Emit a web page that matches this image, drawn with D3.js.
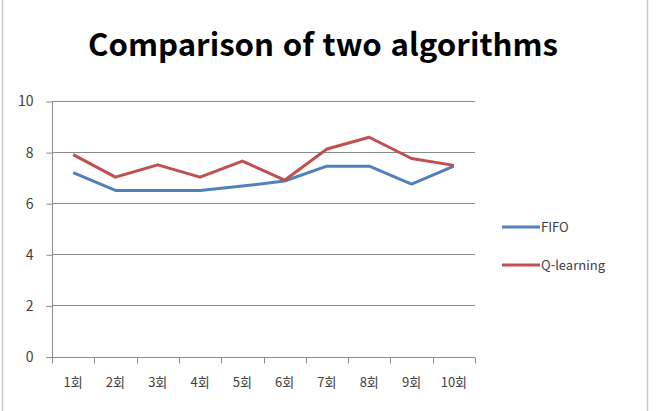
<!DOCTYPE html>
<html lang="ko">
	<head>
		<meta charset="utf-8">
		<title>Comparison of two algorithms</title>
		<script src="https://d3js.org/d3.v7.min.js"></script>
		<style type="text/css">
		body { margin: 0; background: #fff; }
		text {
			font-family: "Noto Sans CJK KR", "Noto Sans", sans-serif;
			font-size: 13px;
			fill: #404040;
		}
		</style>
	</head>
	<body>
		<div id="chart"></div>
		<script type="text/javascript">
		// data
		var rounds = ["1회", "2회", "3회", "4회", "5회", "6회", "7회", "8회", "9회", "10회"];
		var fifo = [7.2, 6.5, 6.5, 6.5, 6.67, 6.87, 7.45, 7.45, 6.75, 7.45];
		var qlearning = [7.9, 7.02, 7.5, 7.02, 7.65, 6.9, 8.12, 8.58, 7.75, 7.48];
		var yTicks = [0, 2, 4, 6, 8, 10];
		var seriesNames = ["FIFO", "Q-learning"];
		var colors = ["#4F81BD", "#C0504D"];

		// plot area
		var w = 657, h = 411;
		var padLeft = 52, padRight = 475, padTop = 101, padBottom = 356.5;

		var svg = d3.select("#chart").append("svg")
			.attr("width", w)
			.attr("height", h);

		// frame
		svg.append("rect")
			.attr("x", 2.5).attr("y", -5)
			.attr("width", 645).attr("height", h + 10)
			.attr("fill", "none")
			.attr("stroke", "#c8c8c8")
			.attr("stroke-width", 1.5);

		// title
		svg.append("text")
			.attr("x", 323).attr("y", 56)
			.attr("text-anchor", "middle")
			.attr("textLength", 470)
			.attr("lengthAdjust", "spacingAndGlyphs")
			.style("font-size", "31px")
			.style("font-weight", "bold")
			.style("fill", "#000")
			.text("Comparison of two algorithms");

		var xScale = d3.scaleBand().domain(rounds).range([padLeft, padRight]);
		var yScale = d3.scaleLinear().domain([0, 10]).range([padBottom, padTop]);

		// gridlines
		svg.append("g")
			.selectAll("line")
			.data(yTicks.filter(d => d > 0))
			.enter().append("line")
			.attr("x1", padLeft).attr("x2", padRight)
			.attr("y1", d => Math.round(yScale(d)) + 0.5)
			.attr("y2", d => Math.round(yScale(d)) + 0.5)
			.attr("stroke", "#8a8a8a");

		// y axis
		var yAxis = d3.axisLeft(yScale).tickValues(yTicks).tickSize(6).tickPadding(13);
		var gy = svg.append("g")
			.attr("transform", "translate(" + (padLeft + 0.5) + ",0.5)")
			.call(yAxis);

		// x axis
		var xAxis = d3.axisBottom(xScale).tickSize(0).tickPadding(20);
		var gx = svg.append("g")
			.attr("transform", "translate(0," + (Math.round(padBottom) + 0.5) + ")")
			.call(xAxis);
		// category boundary ticks
		gx.selectAll("line.bound")
			.data(d3.range(rounds.length + 1))
			.enter().append("line")
			.attr("class", "bound")
			.attr("x1", i => Math.round(padLeft + i * xScale.step()) + 0.5)
			.attr("x2", i => Math.round(padLeft + i * xScale.step()) + 0.5)
			.attr("y1", 0).attr("y2", 6)
			.attr("stroke", "#8a8a8a");

		svg.selectAll(".domain").attr("stroke", "#8a8a8a");
		svg.selectAll(".tick line").attr("stroke", "#8a8a8a");
		gy.selectAll(".tick text")
			.style("font-size", "14px")
			.attr("fill", "#404040");
		gx.selectAll(".tick text")
			.style("font-size", "13px")
			.attr("fill", "#404040");
		gy.select(".domain").attr("d", "M0," + padTop + "V" + padBottom);
		gx.select(".domain").attr("d", "M" + padLeft + ",0H" + padRight);

		// lines
		var line = d3.line()
			.x((d, i) => xScale(rounds[i]) + xScale.bandwidth() / 2)
			.y(d => yScale(d));

		[fifo, qlearning].forEach(function (s, k) {
			svg.append("path")
				.datum(s)
				.attr("d", line)
				.attr("fill", "none")
				.attr("stroke", colors[k])
				.attr("stroke-width", 3)
				.attr("stroke-linejoin", "round");
		});

		// legend
		var legend = svg.append("g")
			.selectAll("g")
			.data(seriesNames)
			.enter().append("g")
			.attr("transform", (d, i) => "translate(502," + (227 + i * 38) + ")");
		legend.append("line")
			.attr("x1", 0).attr("x2", 38)
			.attr("stroke", (d, i) => colors[i])
			.attr("stroke-width", 3);
		legend.append("text")
			.attr("x", 39).attr("y", 5)
			.style("font-size", "13px")
			.text(d => d);
		</script>
	</body>
</html>
